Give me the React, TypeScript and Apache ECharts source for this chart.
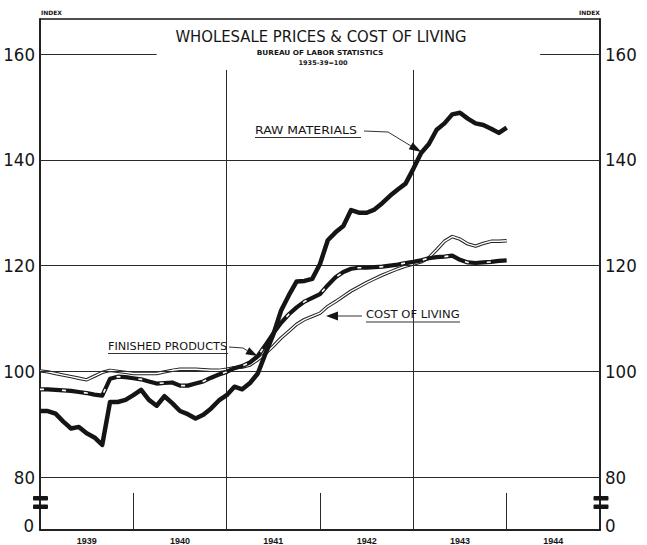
import React, { useEffect, useRef } from "react";
import * as echarts from "echarts";

// Years shown on the x axis (each spans 12 months)
const yearLabels = ["1939", "1940", "1941", "1942", "1943", "1944"];
// Month positions (0 = start of 1939), one reading per month end
const monthIndex = Array.from({ length: 61 }, (_, i) => i);

const rawMaterials = [
  92.5, 92.5, 92, 90.5, 89.2, 89.5, 88.3, 87.5, 86.1, 94.2,
  94.2, 94.6, 95.5, 96.5, 94.6, 93.5, 95.3, 94, 92.5, 91.9,
  91.1, 91.8, 93, 94.5, 95.5, 97.1, 96.6, 97.8, 99.6, 103.4,
  107, 111.5, 114.4, 117, 117.1, 117.5, 120.3, 124.8, 126.3, 127.5,
  130.5, 130, 130, 130.6, 131.8, 133.2, 134.4, 135.5, 138.3, 141.3,
  143, 145.7, 146.9, 148.6, 148.9, 147.8, 146.9, 146.6, 145.9, 145.1,
  146.1,
];

const finishedProducts = [
  96.6, 96.6, 96.5, 96.4, 96.3, 96.1, 95.9, 95.6, 95.4, 98.6,
  99.0, 98.9, 98.7, 98.5, 98.1, 97.7, 97.8, 97.9, 97.3, 97.3,
  97.7, 98.1, 98.8, 99.4, 99.9, 100.6, 101.0, 101.7, 102.9, 105.0,
  107.2, 109.2, 110.8, 112.1, 113.2, 113.9, 114.6, 116.3, 117.8, 118.8,
  119.4, 119.6, 119.6, 119.7, 119.8, 120.0, 120.2, 120.5, 120.7, 121.0,
  121.4, 121.6, 121.7, 121.9, 121.1, 120.6, 120.5, 120.6, 120.7, 120.9,
  121.0,
];

const costOfLiving = [
  100.1, 99.9, 99.6, 99.3, 99.0, 98.7, 98.4, 99.1, 99.8, 100.2,
  100.0, 99.8, 99.6, 99.6, 99.6, 99.6, 99.9, 100.2, 100.4, 100.4,
  100.4, 100.3, 100.2, 100.2, 100.4, 100.7, 100.8, 101.2, 102.2, 103.4,
  104.8, 106.3, 107.6, 108.9, 109.8, 110.4, 111.0, 112.3, 113.2, 114.2,
  115.2, 116.0, 116.8, 117.5, 118.2, 118.8, 119.4, 119.9, 120.3, 120.7,
  121.5, 123.0, 124.6, 125.5, 125.0, 124.1, 123.7, 124.2, 124.6, 124.6,
  124.7,
];

const yTickLabels = [80, 100, 120, 140, 160];

const INK = "#151515";
const NARROW = '"Liberation Sans Narrow", "DejaVu Sans Condensed", "Liberation Sans", sans-serif';
const SANS = '"DejaVu Sans", "Liberation Sans", sans-serif';

function pairs(vals: number[]) {
  return monthIndex.map((m, i) => [m, vals[i]]);
}

export default function App() {
  const ref = useRef<HTMLDivElement>(null);

  useEffect(() => {
    if (!ref.current) return;
    const chart = echarts.init(ref.current, null, { renderer: "svg" });

    const yLabelFormatter = (v: number) => {
      const r = Math.round(v * 100) / 100;
      return yTickLabels.includes(r) ? String(r) : "";
    };

    const yAxisBase = (position: "left" | "right") => ({
      type: "value",
      position,
      min: 70,
      max: 166.64,
      interval: 10,
      axisLine: { show: true, lineStyle: { color: INK, width: 1.5 } },
      axisTick: { show: false },
      splitLine: { show: false },
      axisLabel: {
        formatter: yLabelFormatter,
        color: INK,
        fontSize: 18.5,
        fontFamily: NARROW,
        margin: 5,
        showMinLabel: true,
        showMaxLabel: true,
      },
    });

    const lineSeg = (a: number[], b: number[]) => [{ coord: a }, { coord: b }];

    const textEl = (
      text: string,
      x: number,
      y: number,
      font: string,
      align: string,
      scaleX = 1
    ) => ({
      type: "text",
      x,
      y,
      scaleX,
      z: 100,
      style: {
        text,
        font,
        fill: INK,
        textAlign: align,
        textVerticalAlign: "middle",
      },
    });

    const lineEl = (pts: number[][], w = 1) => ({
      type: "polyline",
      z: 100,
      shape: { points: pts },
      style: { stroke: "#333", lineWidth: w, fill: null },
    });

    const polyEl = (pts: number[][]) => ({
      type: "polygon",
      z: 100,
      shape: { points: pts },
      style: { fill: INK },
    });

    const barEl = (x: number, y: number, w: number, h: number) => ({
      type: "rect",
      z: 100,
      shape: { x, y, width: w, height: h, r: 1 },
      style: { fill: INK },
    });

    const option: any = {
      animation: false,
      backgroundColor: "#ffffff",
      grid: {
        left: 40,
        right: 47,
        top: 19,
        bottom: 15,
        show: true,
        borderColor: INK,
        borderWidth: 1.5,
        containLabel: false,
        outerBoundsMode: "none",
      },
      xAxis: [
        {
          type: "category",
          data: yearLabels,
          position: "bottom",
          boundaryGap: true,
          axisLine: { show: true, lineStyle: { color: INK, width: 1.5 } },
          axisTick: { show: false },
          splitLine: { show: false },
          axisLabel: {
            color: INK,
            fontSize: 9,
            fontWeight: "bold",
            fontFamily: '"Liberation Sans", sans-serif',
            margin: 6,
          },
        },
        { type: "value", min: 0, max: 72, show: false },
      ],
      yAxis: [yAxisBase("left"), yAxisBase("right")],
      series: [
        {
          name: "grid",
          type: "line",
          xAxisIndex: 1,
          yAxisIndex: 0,
          data: pairs(rawMaterials),
          showSymbol: false,
          silent: true,
          lineStyle: { opacity: 0, width: 0 },
          z: 1,
          markLine: {
            silent: true,
            symbol: ["none", "none"],
            label: { show: false },
            lineStyle: { color: "#2a2a2a", width: 1, type: "solid" },
            data: [
              lineSeg([0, 80], [72, 80]),
              lineSeg([0, 100], [72, 100]),
              lineSeg([0, 120], [72, 120]),
              lineSeg([0, 140], [72, 140]),
              lineSeg([0, 160], [15, 160]),
              lineSeg([64.3, 160], [72, 160]),
              lineSeg([24, 70], [24, 157]),
              lineSeg([48, 70], [48, 157]),
              lineSeg([12, 70], [12, 77]),
              lineSeg([36, 70], [36, 77]),
              lineSeg([60, 70], [60, 77]),
            ],
          },
        },
        {
          name: "Cost of Living outline",
          type: "line",
          xAxisIndex: 1,
          yAxisIndex: 0,
          data: pairs(costOfLiving),
          showSymbol: false,
          lineStyle: { color: "#222", width: 3.4, join: "round" },
          z: 3,
        },
        {
          name: "Cost of Living",
          type: "line",
          xAxisIndex: 1,
          yAxisIndex: 0,
          data: pairs(costOfLiving),
          showSymbol: false,
          lineStyle: { color: "#ffffff", width: 1.4, join: "round" },
          z: 4,
        },
        {
          name: "Finished Products",
          type: "line",
          xAxisIndex: 1,
          yAxisIndex: 0,
          data: pairs(finishedProducts),
          showSymbol: false,
          lineStyle: { color: INK, width: 4.2, join: "round" },
          z: 5,
        },
        {
          name: "Finished Products dashes",
          type: "line",
          xAxisIndex: 1,
          yAxisIndex: 0,
          data: pairs(finishedProducts),
          showSymbol: false,
          lineStyle: { color: "#ffffff", width: 1.6, type: [4, 18], cap: "butt" },
          z: 6,
        },
        {
          name: "Raw Materials",
          type: "line",
          xAxisIndex: 1,
          yAxisIndex: 0,
          data: pairs(rawMaterials),
          showSymbol: false,
          lineStyle: { color: INK, width: 4.5, join: "round" },
          z: 7,
        },
      ],
      graphic: [
        textEl("INDEX", 41, 12, `bold 6px ${SANS}`, "left"),
        textEl("INDEX", 600, 12, `bold 6px ${SANS}`, "right"),
        textEl("WHOLESALE PRICES & COST OF LIVING", 321, 36, `16.5px ${NARROW}`, "center"),
        textEl("BUREAU OF LABOR STATISTICS", 320, 53, `bold 6.8px ${SANS}`, "center", 1.08),
        textEl("1935-39=100", 323, 63, `bold 6.5px ${SANS}`, "center"),
        textEl("0", 34, 525, `18.5px ${NARROW}`, "right"),
        textEl("0", 605, 525, `18.5px ${NARROW}`, "left"),
        barEl(33, 496, 15, 4.5),
        barEl(33, 504.5, 15, 4.5),
        barEl(593.5, 496, 15, 4.5),
        barEl(593.5, 504.5, 15, 4.5),
        // Annotations
        textEl("RAW MATERIALS", 255, 131, `10px ${SANS}`, "left", 1.25),
        lineEl([[255, 137.5], [361, 137.5]], 1.2),
        lineEl([[364, 131], [388, 132], [411, 146]]),
        polyEl([[421.5, 152], [408.7, 149.3], [412.7, 142.5]]),
        textEl("FINISHED PRODUCTS", 108, 346.5, `10px ${SANS}`, "left", 1.13),
        lineEl([[108, 353.5], [228, 353.5]], 1.2),
        lineEl([[229, 347], [243, 348], [247.5, 350.8]]),
        polyEl([[257.5, 356], [245.4, 354.3], [249.2, 347.3]]),
        textEl("COST OF LIVING", 366, 315, `10px ${SANS}`, "left", 1.16),
        lineEl([[366, 322], [460, 322]], 1.2),
        lineEl([[336, 316], [362, 316]]),
        polyEl([[326, 316], [338, 311.5], [338, 320.5]]),
      ],
    };

    chart.setOption(option);
    return () => chart.dispose();
  }, []);

  return (
    <div
      ref={ref}
      style={{ position: "fixed", left: 0, top: 0, width: 647, height: 545, background: "#fff" }}
    />
  );
}
